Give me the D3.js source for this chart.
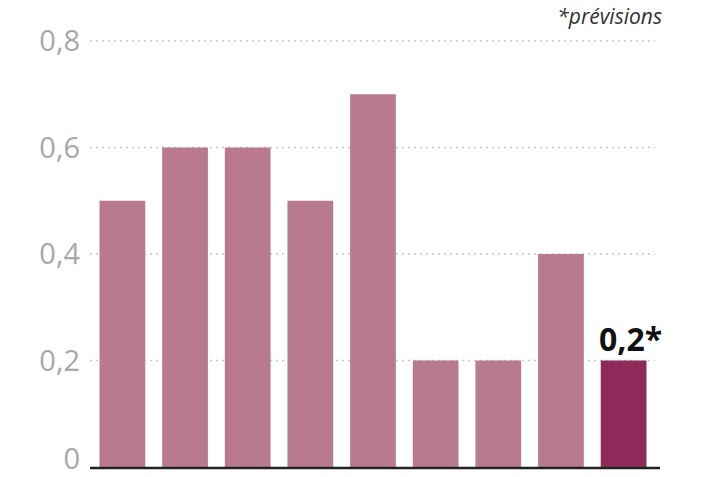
<!DOCTYPE html>
<html><head><meta charset="utf-8">
<script src="https://cdn.jsdelivr.net/npm/d3@7/dist/d3.min.js"></script>
<style>body{margin:0;background:#fff}</style></head>
<body><svg id="c" width="725" height="477"></svg>
<script>
const categories = ["b1","b2","b3","b4","b5","b6","b7","b8","b9"];
const values = [0.5,0.6,0.6,0.5,0.7,0.2,0.2,0.4,0.2];
const tickValues = [0,0.2,0.4,0.6,0.8];
const tickLabels = ["0","0,2","0,4","0,6","0,8"];
const highlightLabel = "0,2*";
const note = "*prévisions";

const svg = d3.select("#c");
const x = d3.scaleBand().domain(categories).range([87,659]).paddingInner(0.27).paddingOuter(0.2);
const y = d3.scaleLinear().domain([0,0.8]).range([467,41]);

svg.append("g").selectAll("line").data(tickValues.slice(1)).join("line")
  .attr("x1",90).attr("x2",655).attr("y1",d=>y(d)).attr("y2",d=>y(d))
  .attr("stroke","#c8c8c8").attr("stroke-width",1.5).attr("stroke-dasharray","2,4");

svg.append("g").selectAll("text").data(tickValues).join("text")
  .attr("x",80).attr("y",d=>y(d)+(d===0?2:10)).attr("text-anchor","end")
  .attr("font-family","Open Sans, sans-serif").attr("font-size",29).attr("fill","#a8a8a8")
  .text((d,i)=>tickLabels[i]);

svg.append("g").selectAll("rect").data(values).join("rect")
  .attr("x",(d,i)=>x(categories[i])).attr("width",x.bandwidth())
  .attr("y",d=>y(d)).attr("height",d=>y(0)-y(d))
  .attr("fill",(d,i)=>i===values.length-1?"#8f2b5b":"#b87a8c");

svg.append("line").attr("x1",90).attr("x2",660).attr("y1",y(0)+1).attr("y2",y(0)+1)
  .attr("stroke","#222").attr("stroke-width",2.5);

const last = categories.length-1;
svg.append("text").attr("x",x(categories[last])+x.bandwidth()/2+7).attr("y",y(values[last])-10)
  .attr("text-anchor","middle").attr("font-family","Open Sans, sans-serif").attr("font-weight","bold")
  .attr("font-size",32).attr("fill","#111").text(highlightLabel);

svg.append("text").attr("x",662).attr("y",24).attr("text-anchor","end")
  .attr("font-family","Open Sans, sans-serif").attr("font-style","italic")
  .attr("font-size",21).attr("fill","#333").text(note);
</script></body></html>
